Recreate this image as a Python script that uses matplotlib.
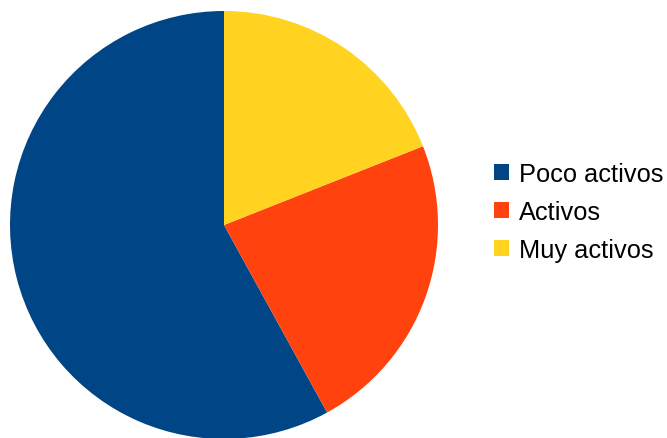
import matplotlib.pyplot as plt
from matplotlib.patches import Patch

plt.rcParams['font.family'] = ['Liberation Sans', 'DejaVu Sans']

# Data
labels = ['Poco activos', 'Activos', 'Muy activos']
values = [58, 23, 19]
colors = ['#004586', '#ff420e', '#ffd320']

fig = plt.figure(figsize=(6.67, 4.39), dpi=100)
W, H = 667, 439

# Pie placed by pixel geometry: center (224, 226) from top, radius 214
cx, cy, r = 224, 226, 214
ax = fig.add_axes([(cx - r) / W, (H - cy - r) / H, 2 * r / W, 2 * r / H])
ax.pie(values, colors=colors, startangle=90, counterclock=True,
       wedgeprops=dict(linewidth=0), radius=1)
ax.set_xlim(-1, 1)
ax.set_ylim(-1, 1)
ax.set_aspect('equal')
ax.axis('off')

# Legend
handles = [Patch(facecolor=c, edgecolor='none') for c in colors]
fig.legend(handles, labels, loc='center left',
           bbox_to_anchor=(494 / W, (H - 213) / H),
           frameon=False, fontsize=18.3, handlelength=0.6, handleheight=0.6,
           handletextpad=0.4, labelspacing=0.55, borderpad=0,
           borderaxespad=0)

fig.savefig('out.png', dpi=100)
